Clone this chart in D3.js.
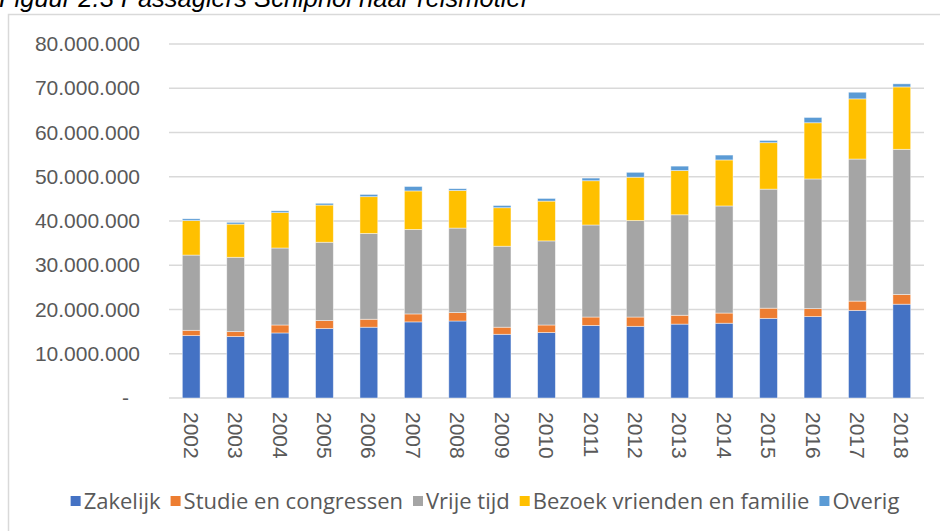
<!DOCTYPE html>
<html>
<head>
<meta charset="utf-8">
<script src="https://cdn.jsdelivr.net/npm/d3@7"></script>
<style>
    body { margin: 0; background: #fff; }
    svg { display: block; font-family: 'Open Sans', sans-serif; }
    .tick-label { fill: #595959; font-size: 21px; }
    .legend-label { fill: #595959; font-size: 22px; }
    .fig-title { font-family: 'Liberation Sans', Arial, sans-serif; font-style: italic; font-size: 25.5px; fill: #000; }
</style>
</head>
<body>
<div id="chartDiv"></div>
<script>
// passagiers per reismotief (aantallen), 2002-2018
const years = ['2002', '2003', '2004', '2005', '2006', '2007', '2008', '2009', '2010',
    '2011', '2012', '2013', '2014', '2015', '2016', '2017', '2018'];
const zakelijk = [14100000, 13900000, 14700000, 15700000, 16000000, 17200000, 17400000, 14400000, 14800000,
    16400000, 16200000, 16700000, 16900000, 18000000, 18400000, 19800000, 21200000];
const studie = [1200000, 1100000, 1800000, 1800000, 1800000, 1800000, 1900000, 1600000, 1700000,
    1900000, 2100000, 2000000, 2300000, 2300000, 1800000, 2100000, 2200000];
const vrijeTijd = [17000000, 16800000, 17400000, 17700000, 19400000, 19100000, 19100000, 18300000, 19000000,
    20800000, 21800000, 22700000, 24200000, 26900000, 29300000, 32100000, 32800000];
const bezoek = [7800000, 7500000, 8000000, 8400000, 8300000, 8700000, 8500000, 8700000, 9000000,
    10000000, 9800000, 10000000, 10400000, 10500000, 12700000, 13600000, 14100000];
const overig = [400000, 400000, 400000, 400000, 500000, 1000000, 400000, 500000, 600000,
    600000, 1100000, 1000000, 1100000, 500000, 1200000, 1500000, 700000];

const seriesNames = ['Zakelijk', 'Studie en congressen', 'Vrije tijd', 'Bezoek vrienden en familie', 'Overig'];
const seriesColors = ['#4472C4', '#ED7D31', '#A5A5A5', '#FFC000', '#5B9BD5'];
const yTicks = [0, 10000000, 20000000, 30000000, 40000000, 50000000, 60000000, 70000000, 80000000];

class MotiefPlot {
    constructor() {
        this.width = 940;
        this.height = 531;
        this.plot = { left: 169, right: 924, top: 44, bottom: 398 };
        this.rows = years.map((y, i) => ({
            year: y,
            'Zakelijk': zakelijk[i],
            'Studie en congressen': studie[i],
            'Vrije tijd': vrijeTijd[i],
            'Bezoek vrienden en familie': bezoek[i],
            'Overig': overig[i]
        }));
        this.drawPlot();
    }

    drawPlot() {
        let nl = d3.formatLocale({ decimal: ',', thousands: '.', grouping: [3], currency: ['€', ''] });
        let fmt = nl.format(',.0f');

        this.svg = d3.select('#chartDiv')
            .append('svg')
            .attr('width', this.width)
            .attr('height', this.height);

        // chart frame + title (title is cut off at the top, as in the report)
        this.svg.append('rect')
            .attr('x', 8.5).attr('y', 14.5)
            .attr('width', 960).attr('height', 560)
            .attr('fill', 'none')
            .attr('stroke', '#d9d9d9')
            .attr('stroke-width', 1.5);
        this.svg.append('text')
            .classed('fig-title', true)
            .attr('x', -1).attr('y', 6.5)
            .text('Figuur 2.3 Passagiers Schiphol naar reismotief');

        let x = d3.scaleBand()
            .domain(years)
            .range([this.plot.left, this.plot.right])
            .paddingInner(0.6)
            .paddingOuter(0.3);
        let y = d3.scaleLinear()
            .domain([0, 80000000])
            .range([this.plot.bottom, this.plot.top]);

        //gridlines
        this.svg.append('g')
            .selectAll('line')
            .data(yTicks)
            .join('line')
            .attr('x1', this.plot.left).attr('x2', this.plot.right)
            .attr('y1', d => y(d)).attr('y2', d => y(d))
            .attr('stroke', '#d9d9d9')
            .attr('stroke-width', 1.5);

        // y axis labels (Excel accounting style, zero shown as dash)
        let yAxis = d3.axisLeft(y)
            .tickValues(yTicks)
            .tickSize(0)
            .tickPadding(0)
            .tickFormat(d => d === 0 ? '-' : fmt(d));
        let yg = this.svg.append('g')
            .attr('transform', 'translate(140,0)')
            .call(yAxis);
        yg.select('.domain').remove();
        yg.selectAll('text')
            .attr('class', 'tick-label')
            .attr('font-family', null).attr('font-size', null)
            .attr('dx', d => d === 0 ? -11 : 0);

        // stacked bars
        let stack = d3.stack().keys(seriesNames)(this.rows);
        this.svg.append('g')
            .selectAll('g')
            .data(stack)
            .join('g')
            .attr('fill', (d, i) => seriesColors[i])
            .selectAll('rect')
            .data(d => d)
            .join('rect')
            .attr('x', d => x(d.data.year))
            .attr('width', x.bandwidth())
            .attr('y', d => y(d[1]))
            .attr('height', d => y(d[0]) - y(d[1]))
            .attr('stroke', 'rgba(255,255,255,0.55)')
            .attr('stroke-width', 0.8);

        // x axis labels, rotated
        let xAxis = d3.axisBottom(x).tickSize(0).tickPadding(0);
        let xg = this.svg.append('g')
            .attr('transform', 'translate(0,' + this.plot.bottom + ')')
            .call(xAxis);
        xg.select('.domain').remove();
        xg.selectAll('text')
            .attr('class', 'tick-label')
            .attr('font-family', null).attr('font-size', null)
            .attr('text-anchor', 'start')
            .attr('dy', '0.35em')
            .attr('transform', 'translate(0,14) rotate(90)');

        //legend
        let legend = this.svg.append('g');
        let items = legend.selectAll('g')
            .data(seriesNames)
            .join('g');
        items.append('rect')
            .attr('width', 10).attr('height', 10)
            .attr('y', -5)
            .attr('fill', (d, i) => seriesColors[i]);
        items.append('text')
            .classed('legend-label', true)
            .attr('x', 13)
            .attr('dy', '0.35em')
            .text(d => d);
        let offset = 0;
        items.each(function () {
            let w = this.querySelector('text').getComputedTextLength() + 13;
            d3.select(this).attr('transform', 'translate(' + offset + ',0)');
            offset += w + 10;
        });
        offset -= 10;
        legend.attr('transform', 'translate(' + (485 - offset / 2) + ',501)');
    }
}

new MotiefPlot();
</script>
</body>
</html>
